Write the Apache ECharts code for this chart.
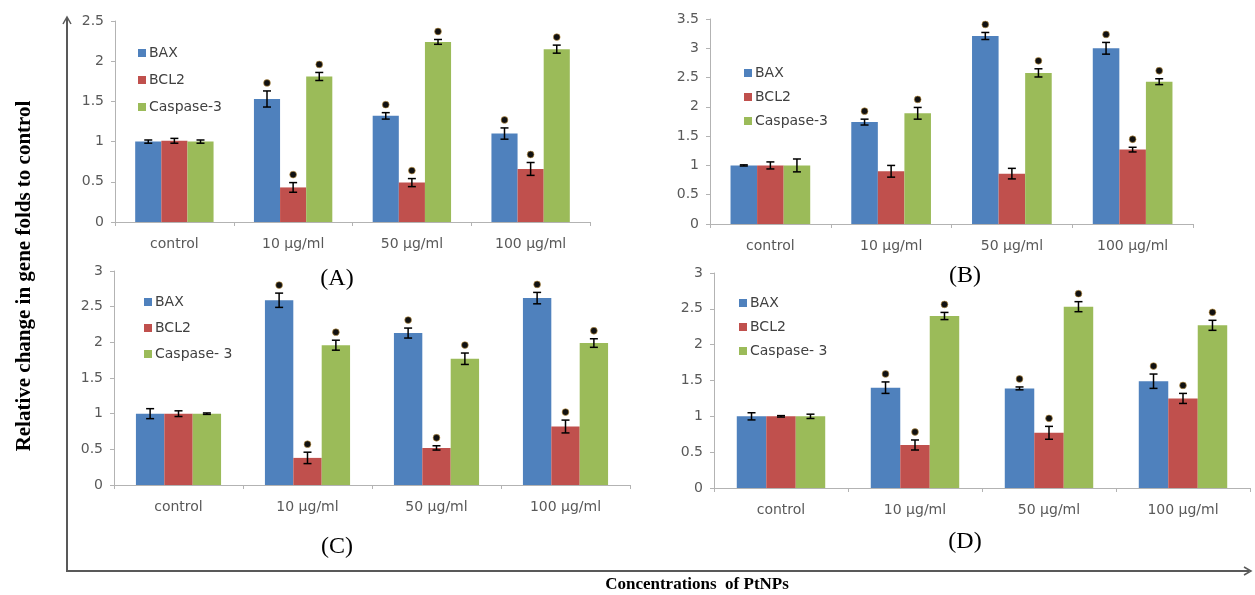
<!DOCTYPE html>
<html>
<head>
<meta charset="utf-8">
<script src="https://cdn.jsdelivr.net/npm/echarts@6/dist/echarts.min.js"></script>
<style>
  html, body { margin: 0; padding: 0; background: #fff; }
  #chart { width: 1255px; height: 595px; }
</style>
</head>
<body>
<div id="chart"></div>
<script>
// categories shared by all four panels
const categories = ['control', '10 µg/ml', '50 µg/ml', '100 µg/ml'];

// panel A
const aBax = [1.0, 1.53, 1.32, 1.10];
const aBaxErr = [0.02, 0.10, 0.04, 0.07];
const aBcl2 = [1.01, 0.43, 0.49, 0.66];
const aBcl2Err = [0.03, 0.06, 0.05, 0.08];
const aCasp = [1.0, 1.81, 2.24, 2.15];
const aCaspErr = [0.02, 0.05, 0.03, 0.05];
const aSig = [[0, 1, 1, 1], [0, 1, 1, 1], [0, 1, 1, 1]];

// panel B
const bBax = [1.0, 1.74, 3.21, 3.0];
const bBaxErr = [0.01, 0.05, 0.06, 0.10];
const bBcl2 = [1.0, 0.90, 0.86, 1.27];
const bBcl2Err = [0.06, 0.10, 0.09, 0.04];
const bCasp = [1.0, 1.89, 2.58, 2.43];
const bCaspErr = [0.11, 0.10, 0.07, 0.05];
const bSig = [[0, 1, 1, 1], [0, 0, 0, 1], [0, 1, 1, 1]];

// panel C
const cBax = [1.0, 2.59, 2.13, 2.62];
const cBaxErr = [0.07, 0.10, 0.07, 0.08];
const cBcl2 = [1.0, 0.38, 0.52, 0.82];
const cBcl2Err = [0.04, 0.08, 0.03, 0.09];
const cCasp = [1.0, 1.96, 1.77, 1.99];
const cCaspErr = [0.01, 0.07, 0.08, 0.06];
const cSig = [[0, 1, 1, 1], [0, 1, 1, 1], [0, 1, 1, 1]];

// panel D
const dBax = [1.0, 1.40, 1.39, 1.49];
const dBaxErr = [0.05, 0.08, 0.02, 0.10];
const dBcl2 = [1.0, 0.60, 0.77, 1.25];
const dBcl2Err = [0.01, 0.07, 0.09, 0.07];
const dCasp = [1.0, 2.40, 2.53, 2.27];
const dCaspErr = [0.03, 0.05, 0.07, 0.07];
const dSig = [[0, 1, 1, 1], [0, 1, 1, 1], [0, 1, 1, 1]];

const yMax = [2.5, 3.5, 3, 3];
const geneNamesAB = ['BAX', 'BCL2', 'Caspase-3'];
const geneNamesCD = ['BAX', 'BCL2', 'Caspase- 3'];
const panelLabels = ['(A)', '(B)', '(C)', '(D)'];

const colors = ['#4f81bd', '#c0504d', '#9bbb59'];
const GAP = 0.34;
const tickFont = 'DejaVu Sans, sans-serif';

const panels = [
  { names: geneNamesAB, vals: [aBax, aBcl2, aCasp], errs: [aBaxErr, aBcl2Err, aCaspErr], sig: aSig,
    grid: { left: 115, top: 21, width: 475, height: 201 }, legend: { left: 133, top: 41 }, gapL: 13,
    label: [337, 279] },
  { names: geneNamesAB, vals: [bBax, bBcl2, bCasp], errs: [bBaxErr, bBcl2Err, bCaspErr], sig: bSig,
    grid: { left: 710, top: 19, width: 483, height: 205 }, legend: { left: 739, top: 61 }, gapL: 10,
    label: [965, 276] },
  { names: geneNamesCD, vals: [cBax, cBcl2, cCasp], errs: [cBaxErr, cBcl2Err, cCaspErr], sig: cSig,
    grid: { left: 114, top: 271, width: 516, height: 214 }, legend: { left: 139, top: 290 }, gapL: 12,
    label: [337, 547] },
  { names: geneNamesCD, vals: [dBax, dBcl2, dCasp], errs: [dBaxErr, dBcl2Err, dCaspErr], sig: dSig,
    grid: { left: 714, top: 273, width: 536, height: 215 }, legend: { left: 734, top: 291 }, gapL: 10,
    label: [965, 542] }
];

function errorSeries(g, k, vals, errs, sig) {
  return {
    type: 'custom',
    xAxisIndex: g,
    yAxisIndex: g,
    z: 5,
    silent: true,
    encode: { x: 0, y: 1 },
    data: vals.map((v, i) => [i, v, errs[i], sig[i]]),
    renderItem: (params, api) => {
      const i = api.value(0);
      const v = api.value(1);
      const e = api.value(2);
      const band = api.size([1, 0])[0];
      const bw = band * (1 - GAP) / 3;
      const top = api.coord([i, v + e]);
      const bot = api.coord([i, v - e]);
      const x = top[0] + (k - 1) * bw;
      const stroke = { stroke: '#000', lineWidth: 1.5 };
      const kids = [
        { type: 'line', shape: { x1: x, y1: top[1], x2: x, y2: bot[1] }, style: stroke },
        { type: 'line', shape: { x1: x - 4, y1: top[1], x2: x + 4, y2: top[1] }, style: stroke },
        { type: 'line', shape: { x1: x - 4, y1: bot[1], x2: x + 4, y2: bot[1] }, style: stroke }
      ];
      if (api.value(3)) {
        kids.push({ type: 'circle', shape: { cx: x, cy: top[1] - 8, r: 3.4 },
          style: { fill: '#111', stroke: '#c99a45', lineWidth: 0.6 } });
      }
      return { type: 'group', children: kids };
    }
  };
}

const grid = [], xAxis = [], yAxis = [], legend = [], series = [], graphic = [];

panels.forEach((p, g) => {
  grid.push(p.grid);
  xAxis.push({
    type: 'category', gridIndex: g, data: categories,
    axisLine: { lineStyle: { color: '#b3b3b3', width: 1 } },
    axisTick: { show: true, length: 4, lineStyle: { color: '#b3b3b3' } },
    axisLabel: { color: '#595959', fontSize: 14, fontFamily: tickFont, margin: 15 }
  });
  yAxis.push({
    type: 'value', gridIndex: g, min: 0, max: yMax[g], interval: 0.5,
    axisLine: { show: true, lineStyle: { color: '#b3b3b3', width: 1 } },
    axisTick: { show: true, length: 4, lineStyle: { color: '#b3b3b3' } },
    splitLine: { show: false },
    axisLabel: { color: '#595959', fontSize: 14, fontFamily: tickFont, margin: 11 }
  });
  legend.push({
    data: p.names, left: p.legend.left, top: p.legend.top, orient: 'vertical',
    icon: 'rect', itemWidth: 8, itemHeight: 8, itemGap: p.gapL, selectedMode: false,
    textStyle: { color: '#404040', fontSize: 14, fontFamily: tickFont, lineHeight: 14, padding: [0, 0, 0, -2] }
  });
  p.vals.forEach((vals, k) => {
    series.push({
      type: 'bar', name: p.names[k], xAxisIndex: g, yAxisIndex: g, data: vals,
      barGap: '0%', barCategoryGap: (GAP * 100) + '%',
      itemStyle: { color: colors[k] }, silent: true
    });
  });
  p.vals.forEach((vals, k) => {
    series.push(errorSeries(g, k, vals, p.errs[k], p.sig[k]));
  });
  graphic.push({
    type: 'text', x: p.label[0], y: p.label[1],
    style: { text: panelLabels[g], fill: '#000', font: '24px "Liberation Serif", serif',
      textAlign: 'center', textVerticalAlign: 'middle' }
  });
});

// outer frame axes with arrows
graphic.push(
  { type: 'polyline', shape: { points: [[67, 18], [67, 571], [1249, 571]] },
    style: { stroke: '#595959', lineWidth: 2, fill: null } },
  { type: 'polyline', shape: { points: [[63, 24], [67, 17], [71, 24]] },
    style: { stroke: '#595959', lineWidth: 1.5, fill: null } },
  { type: 'polyline', shape: { points: [[1244, 567], [1251, 571], [1244, 575]] },
    style: { stroke: '#595959', lineWidth: 1.5, fill: null } },
  { type: 'text', x: 25, y: 276, rotation: Math.PI / 2,
    style: { text: 'Relative change in gene folds to control', fill: '#000',
      font: 'bold 21px "Liberation Serif", serif', textAlign: 'center', textVerticalAlign: 'middle' } },
  { type: 'text', x: 697, y: 585,
    style: { text: 'Concentrations  of PtNPs', fill: '#000',
      font: 'bold 17px "Liberation Serif", serif', textAlign: 'center', textVerticalAlign: 'middle' } }
);

const chart = echarts.init(document.getElementById('chart'));
chart.setOption({
  animation: false,
  backgroundColor: '#fff',
  grid, xAxis, yAxis, legend, series, graphic
});
</script>
</body>
</html>
